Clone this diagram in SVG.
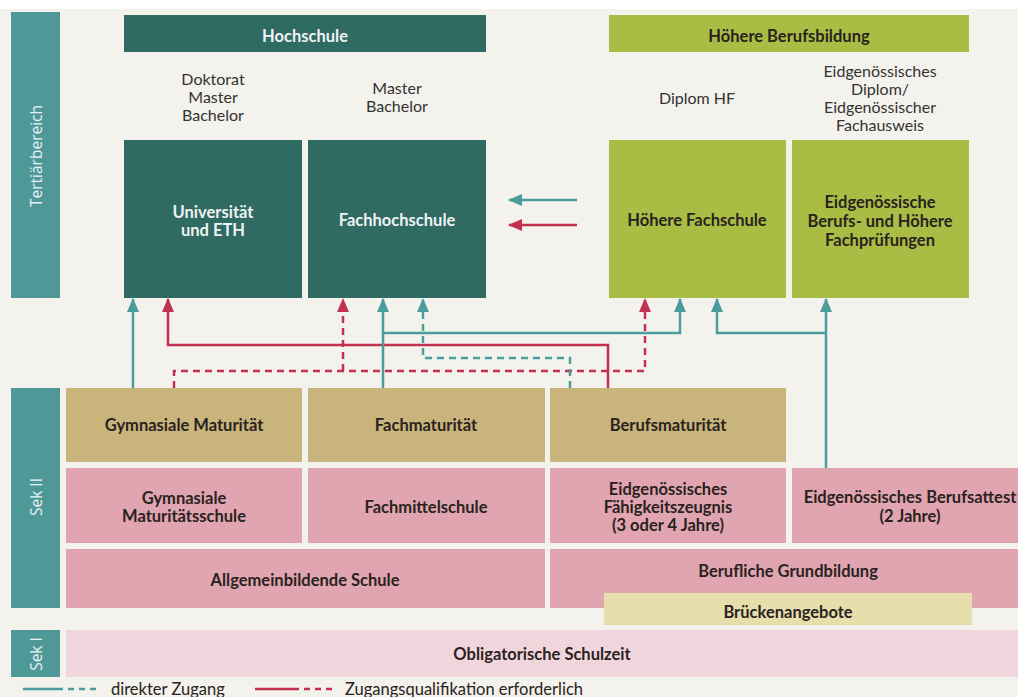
<svg xmlns="http://www.w3.org/2000/svg" width="1018" height="697" viewBox="0 0 1018 697">
<defs>
<marker id="at" viewBox="0 0 14 12" refX="13" refY="6" markerWidth="14" markerHeight="12" markerUnits="userSpaceOnUse" orient="auto"><path d="M0,0 L14,6 L0,12 Z" fill="#4a9d9c"/></marker>
<marker id="ar" viewBox="0 0 14 12" refX="13" refY="6" markerWidth="14" markerHeight="12" markerUnits="userSpaceOnUse" orient="auto"><path d="M0,0 L14,6 L0,12 Z" fill="#c2314f"/></marker>
</defs>
<style>
.t{font-family:Lato,"Liberation Sans",sans-serif;font-size:16.5px;font-weight:bold;text-anchor:middle;fill:#2a2220}
.w{fill:#eef3f1}
.p{font-family:Lato,"Liberation Sans",sans-serif;font-size:16px;text-anchor:middle;fill:#333}
.lbl{font-family:"Open Sans","Liberation Sans",sans-serif;font-size:15.5px;text-anchor:middle;fill:#e8f2f1}
.bar{fill:#4e9898}
.dk{fill:#2f6a63}
.lm{fill:#a9bd45}
.tan{fill:#c9b47b}
.pk{fill:#e0a5b0}
.ct{fill:none;stroke:#4a9d9c;stroke-width:2.5}
.cr{fill:none;stroke:#c2314f;stroke-width:2.5}
.dash{stroke-dasharray:7,5}
.lg{font-family:Lato,"Liberation Sans",sans-serif;font-size:16.5px;fill:#2a2220}
</style>
<rect x="0" y="0" width="1018" height="697" fill="#f3f2ec"/>
<rect x="0" y="0" width="1018" height="9" fill="#ffffff"/>

<g id="tertiaer"><rect class="bar" x="11" y="12" width="49" height="286"/><text class="lbl" transform="translate(42,156) rotate(-90)">Tertiärbereich</text></g>
<g id="sek2"><rect class="bar" x="11" y="388" width="49" height="220"/><text class="lbl" transform="translate(42,497) rotate(-90)">Sek II</text></g>
<g id="sek1"><rect class="bar" x="11" y="630" width="49" height="47"/><text class="lbl" transform="translate(42,654) rotate(-90)">Sek I</text></g>

<g id="hochschule"><rect class="dk" x="124" y="15" width="362" height="37"/><text class="t w" x="305" y="42">Hochschule</text></g>
<g id="hbb"><rect class="lm" x="609" y="15" width="360" height="37"/><text class="t" x="789" y="42">Höhere Berufsbildung</text></g>

<g id="abschluss-uni"><text class="p" x="213" y="85">Doktorat</text><text class="p" x="213" y="103">Master</text><text class="p" x="213" y="121">Bachelor</text></g>
<g id="abschluss-fh"><text class="p" x="397" y="94">Master</text><text class="p" x="397" y="112">Bachelor</text></g>
<g id="abschluss-hf"><text class="p" x="697" y="104">Diplom HF</text></g>
<g id="abschluss-eidg"><text class="p" x="880" y="77">Eidgenössisches</text><text class="p" x="880" y="95">Diplom/</text><text class="p" x="880" y="113">Eidgenössischer</text><text class="p" x="880" y="131">Fachausweis</text></g>

<g id="uni"><rect class="dk" x="124" y="140" width="178" height="158"/><text class="t w" x="213" y="218">Universität</text><text class="t w" x="213" y="236">und ETH</text></g>
<g id="fh"><rect class="dk" x="308" y="140" width="178" height="158"/><text class="t w" x="397" y="226">Fachhochschule</text></g>
<g id="hf"><rect class="lm" x="609" y="140" width="177" height="158"/><text class="t" x="697" y="226">Höhere Fachschule</text></g>
<g id="eidg-pruef"><rect class="lm" x="792" y="140" width="177" height="158"/><text class="t" x="880" y="208">Eidgenössische</text><text class="t" x="880" y="227">Berufs- und Höhere</text><text class="t" x="880" y="246">Fachprüfungen</text></g>

<g id="gym-mat"><rect class="tan" x="66" y="388" width="236" height="74"/><text class="t" x="184" y="431">Gymnasiale Maturität</text></g>
<g id="fachmat"><rect class="tan" x="308" y="388" width="237" height="74"/><text class="t" x="426" y="431">Fachmaturität</text></g>
<g id="berufsmat"><rect class="tan" x="550" y="388" width="236" height="74"/><text class="t" x="668" y="431">Berufsmaturität</text></g>

<g id="gym-schule"><rect class="pk" x="66" y="468" width="236" height="75"/><text class="t" x="184" y="504">Gymnasiale</text><text class="t" x="184" y="522">Maturitätsschule</text></g>
<g id="fms"><rect class="pk" x="308" y="468" width="237" height="75"/><text class="t" x="426" y="513">Fachmittelschule</text></g>
<g id="efz"><rect class="pk" x="550" y="468" width="236" height="75"/><text class="t" x="668" y="495">Eidgenössisches</text><text class="t" x="668" y="513">Fähigkeitszeugnis</text><text class="t" x="668" y="531">(3 oder 4 Jahre)</text></g>
<g id="eba"><rect class="pk" x="792" y="468" width="226" height="75"/><text class="t" x="910" y="503">Eidgenössisches Berufsattest</text><text class="t" x="910" y="522">(2 Jahre)</text></g>

<g id="allg"><rect class="pk" x="66" y="549" width="479" height="59"/><text class="t" x="305" y="586">Allgemeinbildende Schule</text></g>
<g id="bgb"><rect class="pk" x="550" y="549" width="468" height="59"/><text class="t" x="788" y="577">Berufliche Grundbildung</text></g>
<g id="bruecke"><rect x="604" y="593" width="368" height="32" fill="#e6dfac"/><text class="t" x="788" y="618">Brückenangebote</text></g>

<g id="oblig"><rect x="66" y="630" width="952" height="47" fill="#f0d6dc"/><text class="t" x="542" y="660">Obligatorische Schulzeit</text></g>

<g id="connectors">
<path class="ct" d="M133,388 V299" marker-end="url(#at)"/>
<path class="cr" d="M608,388 V345 H168 V299" marker-end="url(#ar)"/>
<path class="cr dash" d="M174,388 V371 H645 V299" marker-end="url(#ar)"/>
<path class="cr dash" d="M343,371 V299" marker-end="url(#ar)"/>
<path class="ct" d="M383,388 V299" marker-end="url(#at)"/>
<path class="ct" d="M383,333 H680 V299" marker-end="url(#at)"/>
<path class="ct dash" d="M570,388 V358 H423 V299" marker-end="url(#at)"/>
<path class="ct" d="M826,468 V299" marker-end="url(#at)"/>
<path class="ct" d="M826,333 H717 V299" marker-end="url(#at)"/>
<path class="ct" d="M577,200 H509" marker-end="url(#at)"/>
<path class="cr" d="M577,225 H509" marker-end="url(#ar)"/>
</g>

<g id="legend">
<line x1="23" y1="689" x2="63" y2="689" stroke="#4a9d9c" stroke-width="2.5"/>
<line x1="68" y1="689" x2="101" y2="689" stroke="#4a9d9c" stroke-width="2.5" stroke-dasharray="6,5"/>
<text class="lg" x="111" y="695">direkter Zugang</text>
<line x1="255" y1="689" x2="299" y2="689" stroke="#c2314f" stroke-width="2.5"/>
<line x1="304" y1="689" x2="333" y2="689" stroke="#c2314f" stroke-width="2.5" stroke-dasharray="6,5"/>
<text class="lg" x="345" y="695">Zugangsqualifikation erforderlich</text>
</g>
</svg>
